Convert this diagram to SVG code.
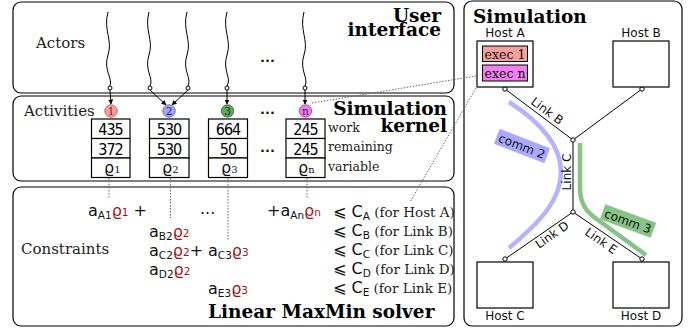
<svg xmlns="http://www.w3.org/2000/svg" width="697" height="331" viewBox="0 0 697 331">
<defs>
<marker id="ah" viewBox="0 0 10 10" refX="9" refY="5" markerWidth="5" markerHeight="5" orient="auto"><path d="M0,0 L10,5 L0,10 z" fill="#000"/></marker>
<style>
.panel{fill:#fff;stroke:#000;stroke-width:1.2}
.serif{font-family:"DejaVu Serif",serif}
.lbl{font-family:"DejaVu Serif",serif;font-size:15px;fill:#222}
.title{font-family:"DejaVu Serif",serif;font-weight:bold;font-size:18.5px;fill:#000}
.sans{font-family:"DejaVu Sans",sans-serif}
.host{font-family:"DejaVu Sans",sans-serif;font-size:12px;fill:#111}
.cell{fill:#fff;stroke:#000;stroke-width:1.2}
.num{font-family:"DejaVu Sans Condensed","DejaVu Sans",sans-serif;font-stretch:condensed;font-size:16px;letter-spacing:-1px;text-anchor:middle;fill:#000}
.row{font-family:"DejaVu Serif",serif;font-size:12.5px;fill:#222}
.wave{fill:none;stroke:#000;stroke-width:1}
.pin{fill:#fff;stroke:#000;stroke-width:1}
.arr{stroke:#000;stroke-width:1;marker-end:url(#ah)}
.dot{stroke:#666;stroke-width:1;stroke-dasharray:1.5 1.5;fill:none}
.eq{font-family:"DejaVu Sans",sans-serif;font-size:16px;fill:#111}
.sub{font-size:10.5px}
.rho{fill:#a31515}
.con{font-family:"DejaVu Serif",serif;font-size:13.5px;fill:#222}
.link{stroke:#000;stroke-width:1;fill:none}
.ell{font-family:"DejaVu Sans",sans-serif;font-weight:bold;font-size:13px;fill:#111}
.cnum{font-family:"DejaVu Serif",serif;font-size:10.5px;text-anchor:middle}
</style>
</defs>

<g id="panel-ui">
<rect class="panel" x="13" y="2" width="441" height="91" rx="8"/>
<text class="lbl" x="36" y="48">Actors</text>
<text class="title" x="441" y="21.5" text-anchor="end">User</text>
<text class="title" x="441" y="36" text-anchor="end">interface</text>
<text class="ell" x="260" y="62">...</text>
</g>

<g id="panel-kernel">
<rect class="panel" x="13" y="96" width="441" height="85" rx="8"/>
<text class="lbl" x="24" y="116">Activities</text>
<text class="title" x="447" y="115" text-anchor="end">Simulation</text>
<text class="title" x="447" y="132" text-anchor="end">kernel</text>
<text class="ell" x="260" y="114">...</text>
<text class="ell" x="260" y="152">...</text>
<text class="row" x="328" y="132">work</text>
<text class="row" x="328" y="151">remaining</text>
<text class="row" x="328" y="171">variable</text>
</g>

<g id="panel-solver">
<rect class="panel" x="13" y="187" width="441" height="139" rx="8"/>
<text class="lbl" x="21" y="254">Constraints</text>
<text class="title" x="208" y="318">Linear MaxMin solver</text>
</g>

<g id="panel-sim">
<rect class="panel" x="464" y="1" width="218" height="325" rx="8"/>
<text class="title" x="473" y="23">Simulation</text>
</g>

<g id="actors">
<path class="wave" d="M108,12 C103,30 113,40 108,55 C103,70 113,78 110,86"/>
<path class="wave" d="M149,12 C144,30 154,40 149,55 C144,70 154,78 150,86"/>
<path class="wave" d="M187,12 C182,30 192,40 187,55 C182,70 192,78 188,86"/>
<path class="wave" d="M227,12 C222,30 232,40 227,55 C222,70 232,78 227,86"/>
<path class="wave" d="M304,12 C299,30 309,40 304,55 C299,70 309,78 305,86"/>
</g>

<g id="connectors">
<line class="arr" x1="110" y1="90" x2="111" y2="104"/>
<line class="arr" x1="150" y1="90" x2="166" y2="105"/>
<line class="arr" x1="188" y1="90" x2="172" y2="105"/>
<line class="arr" x1="227" y1="90" x2="227" y2="104"/>
<line class="arr" x1="305" y1="90" x2="305" y2="104"/>
<circle class="pin" cx="110" cy="88" r="2"/>
<circle class="pin" cx="150" cy="88" r="2"/>
<circle class="pin" cx="188" cy="88" r="2"/>
<circle class="pin" cx="227" cy="88" r="2"/>
<circle class="pin" cx="305" cy="88" r="2"/>
<line class="dot" x1="109" y1="178" x2="109" y2="198"/>
<line class="dot" x1="170.5" y1="178" x2="170.5" y2="218"/>
<line class="dot" x1="228" y1="178" x2="228" y2="241"/>
<line class="dot" x1="307" y1="178" x2="307" y2="198"/>
<line class="dot" x1="312" y1="103" x2="482" y2="75"/>
<line class="dot" x1="476" y1="88" x2="410" y2="202"/>
<path class="link" d="M505,89 L573,140 L642,89 M573,140 L573,212 L505,259 M573,212 L642,259"/>
<path d="M509,102 C540,122 561,145 561,172 C561,200 540,222 509,248" fill="none" stroke="#b3b3ff" stroke-width="4.5"/>
<path d="M580,143 L580,188 C580,203 586,212 598,220 L646,255" fill="none" stroke="#86c486" stroke-width="4.5"/>
<circle class="pin" cx="505" cy="89" r="2.2"/>
<circle class="pin" cx="642" cy="89" r="2.2"/>
<circle class="pin" cx="573" cy="140" r="2.2"/>
<circle class="pin" cx="573" cy="212" r="2.2"/>
<circle class="pin" cx="505" cy="259" r="2.2"/>
<circle class="pin" cx="642" cy="259" r="2.2"/>
<text class="host" transform="translate(547,111) rotate(37)" text-anchor="middle" y="4">Link B</text>
<text class="host" transform="translate(567,172) rotate(-90)" text-anchor="middle" y="4">Link C</text>
<text class="host" transform="translate(552,235) rotate(-35)" text-anchor="middle" y="4">Link D</text>
<text class="host" transform="translate(601,241) rotate(35)" text-anchor="middle" y="4">Link E</text>
<g transform="translate(522,146) rotate(21)">
<rect x="-27" y="-8" width="54" height="16" fill="#a9a9ff"/>
<text class="host" text-anchor="middle" y="4.5">comm 2</text>
</g>
<g transform="translate(628,221) rotate(20)">
<rect x="-27" y="-8" width="54" height="16" fill="#86c486"/>
<text class="host" text-anchor="middle" y="4.5">comm 3</text>
</g>
</g>

<g id="act-1">
<circle cx="111" cy="111" r="6.2" fill="#f4a0a0" stroke="#b05050" stroke-width="0.8"/>
<text class="cnum" x="111" y="115" fill="#a01010">1</text>
<rect class="cell" x="91.5" y="119" width="38.5" height="19.5"/>
<rect class="cell" x="91.5" y="138.5" width="38.5" height="19.5"/>
<rect class="cell" x="91.5" y="158" width="38.5" height="19.5"/>
<text class="num" x="110.5" y="135">435</text>
<text class="num" x="110.5" y="154.5">372</text>
<text class="eq" x="104" y="173">ϱ<tspan class="serif" font-size="10">1</tspan></text>
</g>

<g id="act-2">
<circle cx="169" cy="111" r="6.2" fill="#a9a9f2" stroke="#5050a0" stroke-width="0.8"/>
<text class="cnum" x="169" y="115" fill="#1a1a80">2</text>
<rect class="cell" x="149.5" y="119" width="39.5" height="19.5"/>
<rect class="cell" x="149.5" y="138.5" width="39.5" height="19.5"/>
<rect class="cell" x="149.5" y="158" width="39.5" height="19.5"/>
<text class="num" x="169" y="135">530</text>
<text class="num" x="169" y="154.5">530</text>
<text class="eq" x="162" y="173">ϱ<tspan class="serif" font-size="10">2</tspan></text>
</g>

<g id="act-3">
<circle cx="227.5" cy="111" r="6.2" fill="#62a862" stroke="#306030" stroke-width="0.8"/>
<text class="cnum" x="227.5" y="115" fill="#103010">3</text>
<rect class="cell" x="208.5" y="119" width="39" height="19.5"/>
<rect class="cell" x="208.5" y="138.5" width="39" height="19.5"/>
<rect class="cell" x="208.5" y="158" width="39" height="19.5"/>
<text class="num" x="228" y="135">664</text>
<text class="num" x="228" y="154.5">50</text>
<text class="eq" x="221" y="173">ϱ<tspan class="serif" font-size="10">3</tspan></text>
</g>

<g id="act-n">
<circle cx="305.5" cy="111" r="6.2" fill="#f080f0" stroke="#904090" stroke-width="0.8"/>
<text class="cnum" x="305.5" y="114.5" fill="#501050">n</text>
<rect class="cell" x="286" y="119" width="39" height="19.5"/>
<rect class="cell" x="286" y="138.5" width="39" height="19.5"/>
<rect class="cell" x="286" y="158" width="39" height="19.5"/>
<text class="num" x="305.5" y="135">245</text>
<text class="num" x="305.5" y="154.5">245</text>
<text class="eq" x="298" y="173">ϱ<tspan class="serif" font-size="10">n</tspan></text>
</g>

<g id="constraints">
<text class="eq" x="88" y="216">a<tspan class="sub" dy="3">A1</tspan><tspan class="rho" dy="-3">ϱ</tspan><tspan class="rho sub">1</tspan> +</text>
<text class="eq" x="200" y="214">...</text>
<text class="eq" x="267" y="216">+a<tspan class="sub" dy="3">An</tspan><tspan class="rho" dy="-3">ϱ</tspan><tspan class="rho sub">n</tspan></text>
<text class="eq" x="149" y="236.5">a<tspan class="sub" dy="3">B2</tspan><tspan class="rho" dy="-3">ϱ</tspan><tspan class="rho sub">2</tspan></text>
<text class="eq" x="149" y="255.5">a<tspan class="sub" dy="3">C2</tspan><tspan class="rho" dy="-3">ϱ</tspan><tspan class="rho sub">2</tspan>+</text>
<text class="eq" x="208" y="255.5">a<tspan class="sub" dy="3">C3</tspan><tspan class="rho" dy="-3">ϱ</tspan><tspan class="rho sub">3</tspan></text>
<text class="eq" x="149" y="274.5">a<tspan class="sub" dy="3">D2</tspan><tspan class="rho" dy="-3">ϱ</tspan><tspan class="rho sub">2</tspan></text>
<text class="eq" x="208" y="293.5">a<tspan class="sub" dy="3">E3</tspan><tspan class="rho" dy="-3">ϱ</tspan><tspan class="rho sub">3</tspan></text>
<text class="eq" x="333" y="217">⩽ C<tspan class="sub" dy="3">A</tspan><tspan class="con" dy="-3"> (for Host A)</tspan></text>
<text class="eq" x="333" y="236">⩽ C<tspan class="sub" dy="3">B</tspan><tspan class="con" dy="-3"> (for Link B)</tspan></text>
<text class="eq" x="333" y="255">⩽ C<tspan class="sub" dy="3">C</tspan><tspan class="con" dy="-3"> (for Link C)</tspan></text>
<text class="eq" x="333" y="274">⩽ C<tspan class="sub" dy="3">D</tspan><tspan class="con" dy="-3"> (for Link D)</tspan></text>
<text class="eq" x="333" y="293">⩽ C<tspan class="sub" dy="3">E</tspan><tspan class="con" dy="-3"> (for Link E)</tspan></text>
</g>

<g id="host-a">
<rect x="477" y="41" width="56" height="46" fill="#fff" stroke="#000" stroke-width="1.2"/>
<text class="host" x="505" y="37" text-anchor="middle">Host A</text>
<rect x="482.5" y="46" width="45" height="15.5" fill="#f4a09c" stroke="#000" stroke-width="1"/>
<text class="serif" x="505" y="58.5" font-size="12.5" text-anchor="middle" fill="#111">exec 1</text>
<rect x="482.5" y="65" width="45" height="16" fill="#f080f0" stroke="#000" stroke-width="1"/>
<text class="serif" x="505" y="77.5" font-size="12.5" text-anchor="middle" fill="#111">exec n</text>
</g>
<g id="host-b">
<rect x="613" y="41" width="56" height="46" fill="#fff" stroke="#000" stroke-width="1.2"/>
<text class="host" x="641" y="37" text-anchor="middle">Host B</text>
</g>
<g id="host-c">
<rect x="477" y="262" width="56" height="46" fill="#fff" stroke="#000" stroke-width="1.2"/>
<text class="host" x="505" y="320" text-anchor="middle">Host C</text>
</g>
<g id="host-d">
<rect x="613" y="262" width="56" height="46" fill="#fff" stroke="#000" stroke-width="1.2"/>
<text class="host" x="641" y="320" text-anchor="middle">Host D</text>
</g>
</svg>
